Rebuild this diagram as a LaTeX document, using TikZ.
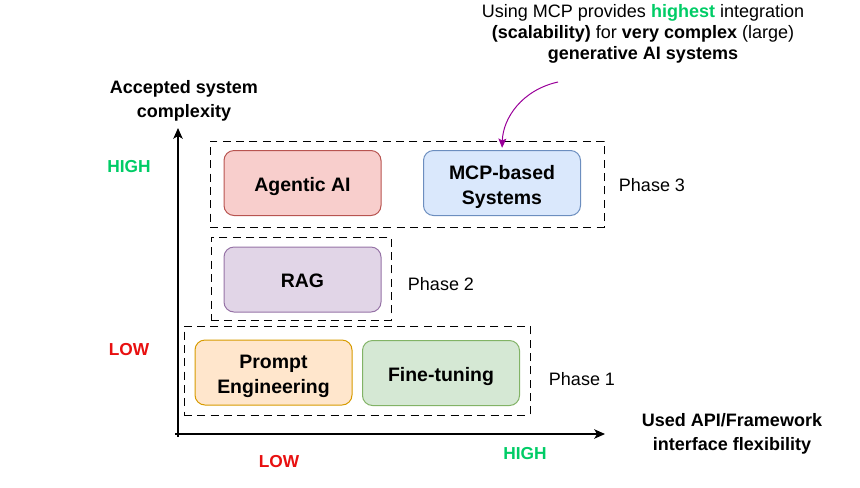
\documentclass[tikz,border=0pt]{standalone}
\usepackage{fontspec}
\setmainfont{Liberation Sans}
\usetikzlibrary{arrows.meta}
\definecolor{hgreen}{HTML}{00CC66}
\definecolor{lred}{HTML}{E81010}
\definecolor{arrowpurple}{HTML}{990099}
\definecolor{redfill}{HTML}{F8CECC}\definecolor{redline}{HTML}{B85450}
\definecolor{bluefill}{HTML}{DAE8FC}\definecolor{blueline}{HTML}{6C8EBF}
\definecolor{purplefill}{HTML}{E1D5E7}\definecolor{purpleline}{HTML}{9673A6}
\definecolor{orangefill}{HTML}{FFE6CC}\definecolor{orangeline}{HTML}{D79B00}
\definecolor{greenfill}{HTML}{D5E8D4}\definecolor{greenline}{HTML}{82B366}
\tikzset{
  techbox/.style={draw, line width=0.75pt, rounded corners=7.5pt, inner sep=0pt, outer sep=0pt,
    align=center, font=\fontsize{14.6}{18.75}\selectfont\bfseries,
    minimum width=117.75pt, minimum height=48.75pt},
  oneline/.style={text height=12.4pt, text depth=0pt},
  twoline/.style={text height=32.2pt, text depth=0pt},
  phasebox/.style={draw, line width=0.75pt, dash pattern=on 6pt off 4pt, inner sep=0pt, outer sep=0pt},
  plain/.style={font=\fontsize{13.5}{16}\selectfont, align=center, inner sep=0pt},
  axlabel/.style={font=\fontsize{13.5}{17.5}\selectfont\bfseries, align=center, inner sep=0pt},
  level/.style={font=\fontsize{13}{15}\selectfont\bfseries, inner sep=0pt},
  axis/.style={line width=1.5pt, -{Stealth[length=8pt, width=7pt, inset=2pt]}}
}
\begin{document}
\begin{tikzpicture}[x=0.75pt, y=-0.75pt]
\useasboundingbox (0,0) rectangle (860,487);
% phase frames
\node[phasebox, minimum width=295.5pt, minimum height=64.5pt] (ph3) at (407,184) {};
\node[phasebox, minimum width=135pt, minimum height=62.25pt] (ph2) at (301,278.5) {};
\node[phasebox, minimum width=259.5pt, minimum height=66.75pt] (ph1) at (357,370.5) {};
% technique boxes
\node[techbox, oneline, fill=redfill, draw=redline] (agentic) at (302.5,183) {Agentic AI};
\node[techbox, twoline, fill=bluefill, draw=blueline] (mcp) at (502,183) {MCP-based\\Systems};
\node[techbox, oneline, fill=purplefill, draw=purpleline] (rag) at (302.5,279.5) {RAG};
\node[techbox, twoline, fill=orangefill, draw=orangeline] (prompt) at (273.5,372.5) {Prompt\\Engineering};
\node[techbox, oneline, fill=greenfill, draw=greenline] (fine) at (441,373) {Fine-tuning};
% phase labels
\node[plain] (p3) at (652,185) {Phase 3};
\node[plain] (p2) at (441,284) {Phase 2};
\node[plain] (p1) at (582,379) {Phase 1};
% axes
\coordinate (o) at (178,434);
\coordinate (ybot) at (178,437);
\coordinate (ytip) at (178,128);
\coordinate (xleft) at (175,434);
\coordinate (xtip) at (605,434);
\draw[axis] (ybot) -- (ytip);
\draw[axis] (xleft) -- (xtip);
\node[axlabel] (ylab) at (184,101) {Accepted system\\complexity};
\node[axlabel] (xlab) at (732,434) {Used API/Framework\\interface flexibility};
\node[level, text=hgreen] (yhigh) at (129,167) {HIGH};
\node[level, text=lred] (ylow) at (129,350) {LOW};
\node[level, text=lred] (xlow) at (279,462) {LOW};
\node[level, text=hgreen] (xhigh) at (525,454) {HIGH};
% annotation
\node[plain, font=\fontsize{13.5}{15.75}\selectfont] (note) at (643,34)
  {Using MCP provides \textbf{\textcolor{hgreen}{highest}} integration\\
   \textbf{(scalability)} for \textbf{very complex} (large)\\
   \textbf{generative AI systems}};
\coordinate (nstart) at (558,82);
\draw[arrowpurple, line width=0.75pt, -{Stealth[length=7pt, width=6pt, inset=1.5pt]}, shorten >=2pt]
  (nstart) .. controls (522,90) and (503,118) .. (mcp.north);
\end{tikzpicture}
\end{document}
